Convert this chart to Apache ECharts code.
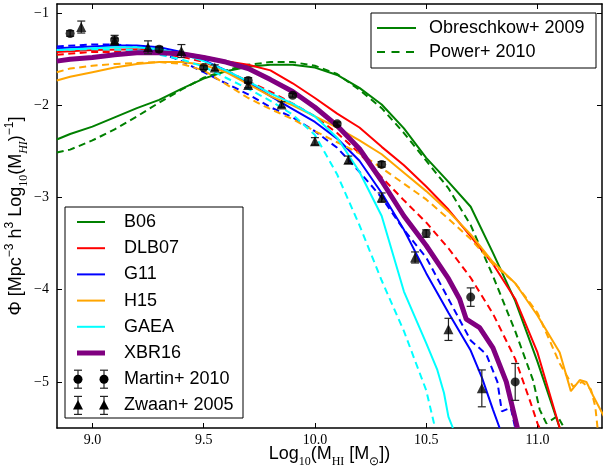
<!DOCTYPE html>
<html><head><meta charset="utf-8">
<script src="https://cdn.jsdelivr.net/npm/echarts@6/dist/echarts.min.js"></script>
<style>html,body{margin:0;padding:0;background:#fff}#c{width:603px;height:470px}</style>
</head><body><div id="c"></div>
<script>
// ---- data ----
const xTicks = [9.0, 9.5, 10.0, 10.5, 11.0];
const yTicks = [-5, -4, -3, -2, -1];
const modelNames = ['B06', 'DLB07', 'G11', 'H15', 'GAEA', 'XBR16'];
const modelColors = ['#008000', '#ff0000', '#0000ff', '#ffa500', '#00ffff', '#800080'];

const b06Obreschkow = [[8.84,-2.37],[8.9,-2.31],[9.0,-2.23],[9.1,-2.13],[9.2,-2.03],[9.3,-1.94],[9.4,-1.82],[9.5,-1.71],[9.6,-1.63],[9.7,-1.58],[9.8,-1.56],[9.9,-1.56],[10.0,-1.59],[10.1,-1.67],[10.2,-1.81],[10.3,-1.99],[10.4,-2.25],[10.5,-2.57],[10.6,-2.83],[10.7,-3.1],[10.8,-3.6],[10.9,-4.12],[11.0,-4.78],[11.1,-5.5]];
const b06Power = [[8.84,-2.51],[8.9,-2.48],[9.0,-2.38],[9.1,-2.26],[9.2,-2.12],[9.3,-1.97],[9.4,-1.83],[9.5,-1.70],[9.6,-1.62],[9.7,-1.56],[9.8,-1.53],[9.9,-1.53],[10.0,-1.57],[10.1,-1.66],[10.2,-1.83],[10.3,-2.03],[10.4,-2.3],[10.5,-2.6],[10.6,-2.9],[10.7,-3.3],[10.8,-3.85],[10.9,-4.45],[10.98,-4.98],[11.01,-5.3],[11.04,-5.45],[11.09,-5.37],[11.12,-5.5]];
const dlb07Obreschkow = [[8.84,-1.42],[9.0,-1.40],[9.2,-1.39],[9.4,-1.43],[9.5,-1.47],[9.6,-1.52],[9.7,-1.56],[9.8,-1.62],[9.9,-1.76],[10.0,-1.92],[10.1,-2.09],[10.2,-2.24],[10.3,-2.45],[10.4,-2.65],[10.5,-2.88],[10.6,-3.13],[10.7,-3.42],[10.8,-3.72],[10.9,-4.1],[11.0,-4.68],[11.1,-5.5]];
const dlb07Power = [[8.84,-1.45],[9.0,-1.42],[9.2,-1.42],[9.4,-1.47],[9.5,-1.53],[9.6,-1.62],[9.7,-1.74],[9.8,-1.85],[9.9,-1.98],[10.0,-2.12],[10.1,-2.3],[10.2,-2.52],[10.3,-2.78],[10.4,-3.03],[10.5,-3.27],[10.6,-3.55],[10.7,-3.87],[10.8,-4.26],[10.9,-4.75],[10.97,-5.23],[11.0,-5.45],[11.01,-5.5]];
const g11Obreschkow = [[8.84,-1.38],[9.0,-1.36],[9.1,-1.35],[9.2,-1.35],[9.3,-1.37],[9.4,-1.42],[9.5,-1.51],[9.6,-1.62],[9.7,-1.75],[9.8,-1.90],[9.9,-2.04],[10.0,-2.18],[10.1,-2.36],[10.2,-2.6],[10.3,-2.95],[10.4,-3.35],[10.5,-3.82],[10.6,-4.25],[10.7,-4.66],[10.75,-4.95],[10.8,-5.3],[10.83,-5.5]];
const g11Power = [[8.84,-1.36],[9.0,-1.34],[9.1,-1.34],[9.2,-1.36],[9.3,-1.42],[9.4,-1.52],[9.5,-1.64],[9.6,-1.76],[9.7,-1.88],[9.8,-2.02],[9.9,-2.13],[10.0,-2.28],[10.1,-2.46],[10.2,-2.72],[10.3,-3.0],[10.4,-3.35],[10.5,-3.65],[10.6,-4.1],[10.7,-4.55],[10.77,-4.7],[10.82,-5.0],[10.84,-5.32],[10.88,-5.28],[10.9,-5.5]];
const h15Obreschkow = [[8.84,-1.73],[8.9,-1.69],[9.0,-1.64],[9.1,-1.59],[9.2,-1.55],[9.3,-1.53],[9.4,-1.53],[9.5,-1.56],[9.6,-1.64],[9.7,-1.77],[9.8,-1.90],[9.9,-2.0],[10.0,-2.12],[10.1,-2.24],[10.2,-2.38],[10.3,-2.53],[10.4,-2.73],[10.5,-2.93],[10.6,-3.15],[10.7,-3.4],[10.8,-3.7],[10.9,-3.93],[11.0,-4.28],[11.1,-4.68],[11.15,-5.1],[11.19,-4.98],[11.22,-5.0],[11.25,-5.15],[11.3,-5.38]];
const h15Power = [[8.84,-1.64],[8.9,-1.60],[9.0,-1.57],[9.1,-1.55],[9.2,-1.54],[9.3,-1.53],[9.4,-1.55],[9.5,-1.62],[9.6,-1.77],[9.7,-1.92],[9.8,-2.04],[9.9,-2.15],[10.0,-2.28],[10.1,-2.40],[10.2,-2.52],[10.3,-2.68],[10.4,-2.85],[10.5,-3.02],[10.6,-3.23],[10.7,-3.45],[10.8,-3.72],[10.9,-3.93],[11.0,-4.25],[11.1,-4.8],[11.16,-5.05],[11.2,-5.0],[11.24,-5.08],[11.26,-5.27],[11.27,-5.5]];
const gaeaObreschkow = [[8.84,-1.40],[9.0,-1.38],[9.1,-1.37],[9.2,-1.37],[9.3,-1.39],[9.4,-1.44],[9.5,-1.52],[9.6,-1.62],[9.7,-1.74],[9.8,-1.87],[9.9,-1.98],[10.0,-2.12],[10.1,-2.35],[10.2,-2.72],[10.3,-3.2],[10.4,-4.02],[10.5,-4.58],[10.55,-4.87],[10.58,-5.12],[10.6,-5.38],[10.62,-5.5]];
const gaeaPower = [[8.84,-1.40],[9.0,-1.39],[9.2,-1.40],[9.3,-1.45],[9.4,-1.50],[9.5,-1.58],[9.6,-1.70],[9.7,-1.82],[9.8,-1.95],[9.9,-2.1],[10.0,-2.32],[10.1,-2.75],[10.2,-3.3],[10.3,-3.9],[10.4,-4.45],[10.5,-5.09],[10.54,-5.5]];
const xbr16 = [[8.84,-1.52],[8.9,-1.50],[9.0,-1.48],[9.1,-1.45],[9.2,-1.43],[9.3,-1.43],[9.4,-1.44],[9.5,-1.48],[9.6,-1.53],[9.7,-1.60],[9.8,-1.72],[9.9,-1.85],[10.0,-2.02],[10.1,-2.22],[10.2,-2.47],[10.3,-2.82],[10.4,-3.2],[10.5,-3.52],[10.6,-3.88],[10.65,-4.1],[10.68,-4.32],[10.74,-4.41],[10.8,-4.63],[10.86,-5.0],[10.91,-5.5]];

const martinX = [8.9, 9.1, 9.3, 9.5, 9.7, 9.9, 10.1, 10.3, 10.5, 10.7, 10.9];
const martinY = [-1.22, -1.29, -1.39, -1.59, -1.73, -1.89, -2.20, -2.64, -3.39, -4.08, -5.00];
const martinErr = [0.03, 0.05, 0.03, 0.02, 0.03, 0.02, 0.02, 0.03, 0.04, 0.10, 0.20];
const zwaanX = [8.95, 9.1, 9.25, 9.4, 9.55, 9.7, 9.85, 10.0, 10.15, 10.3, 10.45, 10.6, 10.75];
const zwaanY = [-1.15, -1.30, -1.37, -1.41, -1.59, -1.78, -1.99, -2.39, -2.59, -3.0, -3.65, -4.43, -5.07];
const zwaanErr = [0.065, 0.03, 0.07, 0.07, 0.03, 0.03, 0.03, 0.04, 0.04, 0.05, 0.06, 0.12, 0.20];

// ---- build ----
const SANS = 'Liberation Sans';
const SERIF = 'Liberation Serif';
const DASH = [7, 4.5];
const solidCurves = [b06Obreschkow, dlb07Obreschkow, g11Obreschkow, h15Obreschkow, gaeaObreschkow, xbr16];
const dashCurves = [b06Power, dlb07Power, g11Power, h15Power, gaeaPower, null];

const series = [];
modelNames.forEach((n, i) => {
  series.push({type:'line', name:n, data:solidCurves[i], showSymbol:false, symbol:'none', silent:true,
    lineStyle:{color:modelColors[i], width: n === 'XBR16' ? 5 : 2}, z: 2 + i});
  if (dashCurves[i]) series.push({type:'line', name:n + ' (Power)', data:dashCurves[i], symbol:'none', silent:true,
    lineStyle:{color:modelColors[i], width:2, type:DASH}, z: 2 + i});
});

function errRender(params, api) {
  const x = api.value(0), y = api.value(1), e = api.value(2);
  const t = api.coord([x, y + e]), b = api.coord([x, y - e]);
  const st = {stroke:'#222', lineWidth:1.2};
  return {type:'group', children:[
    {type:'line', shape:{x1:t[0], y1:t[1], x2:b[0], y2:b[1]}, style:st},
    {type:'line', shape:{x1:t[0]-4, y1:t[1], x2:t[0]+4, y2:t[1]}, style:st},
    {type:'line', shape:{x1:b[0]-4, y1:b[1], x2:b[0]+4, y2:b[1]}, style:st}
  ]};
}
const martinErrData = martinX.map((x, i) => [x, martinY[i], martinErr[i]]);
const zwaanErrData = zwaanX.map((x, i) => [x, zwaanY[i], zwaanErr[i]]);
series.push({type:'custom', name:'Martin err', renderItem:errRender, data:martinErrData, z:20, silent:true, encode:{x:0, y:1}});
series.push({type:'custom', name:'Zwaan err', renderItem:errRender, data:zwaanErrData, z:20, silent:true, encode:{x:0, y:1}});
series.push({type:'scatter', name:'Martin+ 2010', data:martinX.map((x, i) => [x, martinY[i]]), symbol:'circle', symbolSize:9,
  itemStyle:{color:'#000'}, z:21, silent:true});
series.push({type:'scatter', name:'Zwaan+ 2005', data:zwaanX.map((x, i) => [x, zwaanY[i]]), symbol:'triangle', symbolSize:10,
  itemStyle:{color:'#000'}, z:21, silent:true});

// ---- legends (graphic) ----
const graphic = [];
const lx0 = 65, ly0 = 207, rowH = 26.2, row0 = 222;
graphic.push({type:'rect', shape:{x:lx0, y:ly0, width:178, height:211}, style:{fill:'#fff', stroke:'#000', lineWidth:1}, z:100});
modelNames.forEach((n, i) => {
  const y = row0 + i * rowH;
  graphic.push({type:'line', shape:{x1:77, y1:y, x2:105, y2:y}, style:{stroke:modelColors[i], lineWidth: n === 'XBR16' ? 5 : 2}, z:101});
  graphic.push({type:'text', style:{text:n, x:124, y:y, fontSize:18, fontFamily:SANS, fill:'#000', verticalAlign:'middle'}, z:101});
});
[['Martin+ 2010', 'circle'], ['Zwaan+ 2005', 'triangle']].forEach((d, k) => {
  const y = row0 + (6 + k) * rowH;
  [78, 104].forEach(cx => {
    const st = {stroke:'#222', lineWidth:1.2};
    graphic.push({type:'line', shape:{x1:cx, y1:y-9, x2:cx, y2:y+9}, style:st, z:101});
    graphic.push({type:'line', shape:{x1:cx-4, y1:y-9, x2:cx+4, y2:y-9}, style:st, z:101});
    graphic.push({type:'line', shape:{x1:cx-4, y1:y+9, x2:cx+4, y2:y+9}, style:st, z:101});
    if (d[1] === 'circle') graphic.push({type:'circle', shape:{cx:cx, cy:y, r:4.5}, style:{fill:'#000'}, z:102});
    else graphic.push({type:'polygon', shape:{points:[[cx, y-5.5], [cx-5, y+4], [cx+5, y+4]]}, style:{fill:'#000'}, z:102});
  });
  graphic.push({type:'text', style:{text:d[0], x:124, y:y, fontSize:18, fontFamily:SANS, fill:'#000', verticalAlign:'middle'}, z:101});
});
graphic.push({type:'rect', shape:{x:371, y:13, width:225, height:55}, style:{fill:'#fff', stroke:'#000', lineWidth:1}, z:100});
[['Obreschkow+ 2009', null], ['Power+ 2010', [8, 6.5]]].forEach((d, k) => {
  const y = 28 + k * 24;
  graphic.push({type:'line', shape:{x1:377, y1:y, x2:416, y2:y}, style:{stroke:'#008000', lineWidth:2, lineDash:d[1] || null}, z:101});
  graphic.push({type:'text', style:{text:d[0], x:429, y:y, fontSize:18, fontFamily:SANS, fill:'#000', verticalAlign:'middle'}, z:101});
});

const axisCommon = {
  type:'value', min:8.841, max:11.29, splitLine:{show:false},
  axisLine:{show:true, lineStyle:{color:'#000', width:1.5}},
  axisTick:{show:true, inside:true, length:5, customValues:xTicks, lineStyle:{color:'#000', width:1}}
};
const yCommon = {
  type:'value', min:-5.5, max:-0.9, splitLine:{show:false},
  axisLine:{show:true, lineStyle:{color:'#000', width:1.5}},
  axisTick:{show:true, inside:true, length:5, customValues:yTicks, lineStyle:{color:'#000', width:1}}
};
const rich = {
  n:{fontSize:18, fontFamily:SANS, color:'#000', lineHeight:24},
  sub:{fontSize:12, fontFamily:SERIF, color:'#000', verticalAlign:'bottom', lineHeight:12, padding:[0,0,-2,0]},
  subi:{fontSize:12, fontFamily:SERIF, fontStyle:'italic', color:'#000', verticalAlign:'bottom', lineHeight:12, padding:[0,0,-2,0]},
  sup:{fontSize:12, fontFamily:SANS, color:'#000', verticalAlign:'top', lineHeight:12}
};

const option = {
  animation:false,
  backgroundColor:'#fff',
  grid:{left:57, right:1, top:4, bottom:42, containLabel:false, outerBoundsMode:'none'},
  xAxis:[
    Object.assign({}, axisCommon, {position:'bottom',
      axisLabel:{show:true, customValues:xTicks, margin:5, fontFamily:SERIF, fontSize:14, color:'#000', formatter:v => v.toFixed(1)},
      name:'{n|Log}{sub|10}{n|(M}{sub|HI}{n| [M}{sub|⊙}{n|])}', nameLocation:'middle', nameGap:14, nameMoveOverlap:false,
      nameTextStyle:{rich:rich}}),
    Object.assign({}, axisCommon, {position:'top', axisLabel:{show:false}})
  ],
  yAxis:[
    Object.assign({}, yCommon, {position:'left',
      axisLabel:{show:true, customValues:yTicks, margin:8, fontFamily:SERIF, fontSize:14, color:'#000', formatter:v => (v < 0 ? '\u2212' : '') + Math.abs(v)},
      name:'{n|Φ [Mpc}{sup|−3}{n| h}{sup|3}{n| Log}{sub|10}{n|(M}{subi|HI}{n|)}{sup|−1}{n|]}', nameLocation:'middle', nameGap:29, nameRotate:90, nameMoveOverlap:false,
      nameTextStyle:{rich:rich}}),
    Object.assign({}, yCommon, {position:'right', axisLabel:{show:false}})
  ],
  graphic:graphic,
  series:series
};
const chart = echarts.init(document.getElementById('c'), null, {renderer:'canvas'});
chart.setOption(option);
</script></body></html>
